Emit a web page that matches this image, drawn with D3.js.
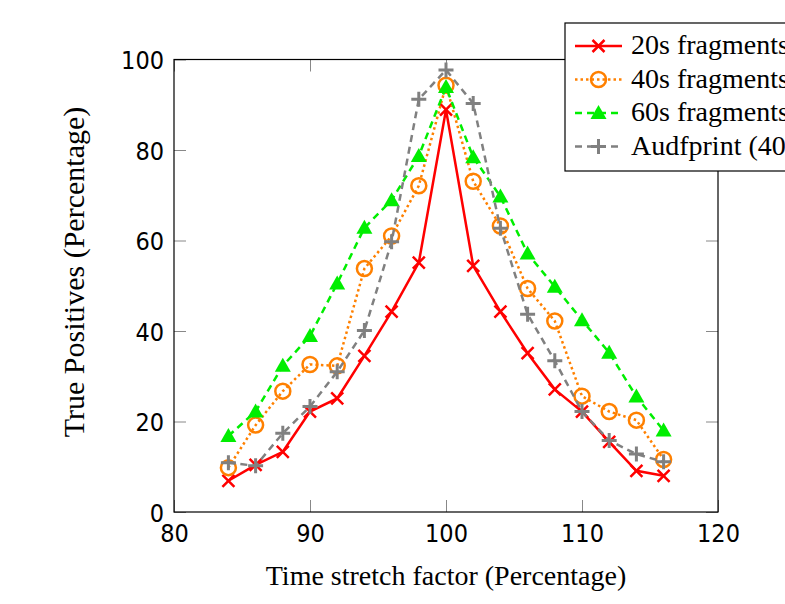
<!DOCTYPE html>
<html>
<head>
<meta charset="utf-8">
<script src="https://cdn.jsdelivr.net/npm/d3@7"></script>
<style>
  body { margin: 0; background: #fff; }
  .tick text { font-family: "DejaVu Sans Condensed", "DejaVu Sans", sans-serif; font-stretch: condensed; font-size: 25px; fill: #000; }
  .lbl { font-family: "Liberation Serif", serif; font-size: 28px; fill: #000; }
</style>
</head>
<body>
<script>
// values
var factors = [84, 86, 88, 90, 92, 94, 96, 98, 100, 102, 104, 106, 108, 110, 112, 114, 116];
var frag20 = [6.9, 10.4, 13.3, 22.2, 25.1, 34.5, 44.3, 55.1, 88.9, 54.4, 44.3, 35.1, 27.1, 22.2, 15.5, 9.1, 8.0];
var frag40 = [9.8, 19.2, 26.7, 32.6, 32.3, 53.8, 61.0, 72.1, 94.3, 73.1, 63.2, 49.4, 42.2, 25.6, 22.2, 20.3, 11.6];
var frag60 = [16.8, 22.2, 32.3, 38.9, 50.5, 62.8, 68.9, 78.7, 93.9, 78.4, 69.7, 57.1, 49.8, 42.4, 35.2, 25.5, 18.0];
var audf = [10.9, 10.2, 17.4, 23.3, 31.0, 40.1, 59.7, 91.2, 97.7, 90.3, 62.7, 43.7, 33.4, 22.2, 15.8, 12.8, 11.1];
var xTicks = [80, 90, 100, 110, 120];
var yTicks = [0, 20, 40, 60, 80, 100];

var series = [
  {name: "20s fragments", values: frag20, color: "#ff0000", dash: null, marker: "x"},
  {name: "40s fragments", values: frag40, color: "#ff8000", dash: "2.5,3", marker: "o"},
  {name: "60s fragments", values: frag60, color: "#00ee00", dash: "7,5", marker: "tri"},
  {name: "Audfprint (40s fragments)", values: audf, color: "#808080", dash: "7,5", marker: "+"}
];

var W = 785, H = 604;
var pL = 174, pR = 718, pT = 59.5, pB = 512;

var svg = d3.select("body").append("svg")
    .attr("width", W).attr("height", H);

var x = d3.scaleLinear().domain([80, 120]).range([pL, pR]);
var y = d3.scaleLinear().domain([0, 100]).range([pB, pT]);

// axes with inward ticks, mirrored on the opposite sides
function styleAxis(g) {
  g.select(".domain").remove();
  g.selectAll(".tick line").attr("stroke", "#888").attr("stroke-width", 1);
}
svg.append("g").attr("transform", "translate(0," + pB + ")")
  .call(d3.axisBottom(x).tickValues(xTicks).tickSizeInner(-12))
  .call(styleAxis)
  .selectAll("text").attr("y", 29.5).attr("dy", 0);
svg.append("g").attr("transform", "translate(0," + pT + ")")
  .call(d3.axisTop(x).tickValues(xTicks).tickSizeInner(-12).tickFormat(""))
  .call(styleAxis);
svg.append("g").attr("transform", "translate(" + pL + ",0)")
  .call(d3.axisLeft(y).tickValues(yTicks).tickSizeInner(-12))
  .call(styleAxis)
  .selectAll("text").attr("x", -10).attr("dy", "0.36em");
svg.append("g").attr("transform", "translate(" + pR + ",0)")
  .call(d3.axisRight(y).tickValues(yTicks).tickSizeInner(-12).tickFormat(""))
  .call(styleAxis);

svg.append("rect")
  .attr("x", pL).attr("y", pT)
  .attr("width", pR - pL).attr("height", pB - pT)
  .attr("fill", "none").attr("stroke", "#000").attr("stroke-width", 1.2);

// markers
function drawMarker(g, type, color) {
  if (type == "x") {
    g.append("path").attr("d", "M-6,-6L6,6M-6,6L6,-6")
      .attr("stroke", color).attr("stroke-width", 2.5).attr("fill", "none");
  } else if (type == "o") {
    g.append("circle").attr("r", 7.5)
      .attr("stroke", color).attr("stroke-width", 2.5).attr("fill", "none");
  } else if (type == "tri") {
    g.append("path").attr("d", "M0,-8L8,6L-8,6Z").attr("fill", color);
  } else {
    g.append("path").attr("d", "M-7.5,0L7.5,0M0,-7.5L0,7.5")
      .attr("stroke", color).attr("stroke-width", 3).attr("fill", "none");
  }
}

var line = d3.line()
  .x(function(d, i) { return x(factors[i]); })
  .y(function(d) { return y(d); });

series.forEach(function(s) {
  svg.append("path")
    .attr("d", line(s.values))
    .attr("fill", "none")
    .attr("stroke", s.color)
    .attr("stroke-width", 2.5)
    .attr("stroke-dasharray", s.dash);
  s.values.forEach(function(v, i) {
    var g = svg.append("g").attr("transform", "translate(" + x(factors[i]) + "," + y(v) + ")");
    drawMarker(g, s.marker, s.color);
  });
});

// legend
var lg = svg.append("g");
lg.append("rect")
  .attr("x", 565).attr("y", 23).attr("width", 300).attr("height", 148)
  .attr("fill", "#fff").attr("stroke", "#000").attr("stroke-width", 1.2);
series.forEach(function(s, i) {
  var yy = 46 + i * 33.5;
  lg.append("path")
    .attr("d", "M575," + yy + "L622," + yy)
    .attr("stroke", s.color).attr("stroke-width", 2.5)
    .attr("stroke-dasharray", s.dash).attr("fill", "none");
  drawMarker(lg.append("g").attr("transform", "translate(598.5," + yy + ")"), s.marker, s.color);
  lg.append("text").attr("class", "lbl")
    .attr("x", 631).attr("y", yy + 8)
    .text(s.name);
});

// axis labels
svg.append("text").attr("class", "lbl")
  .attr("x", 446).attr("y", 585)
  .attr("text-anchor", "middle")
  .text("Time stretch factor (Percentage)");
svg.append("text").attr("class", "lbl")
  .style("font-size", "30px")
  .attr("transform", "translate(84,272) rotate(-90)")
  .attr("text-anchor", "middle")
  .text("True Positives (Percentage)");
</script>
</body>
</html>
